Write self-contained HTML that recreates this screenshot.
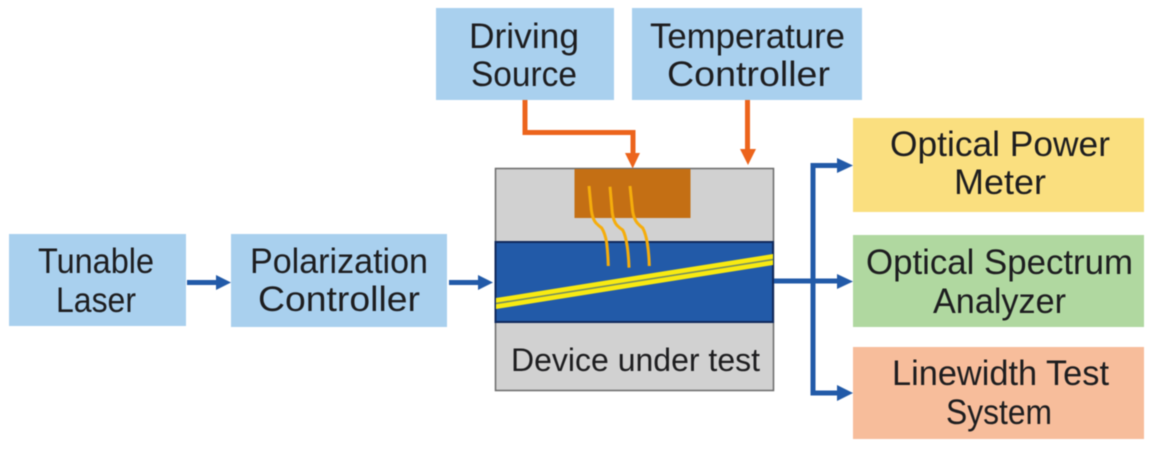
<!DOCTYPE html>
<html><head><meta charset="utf-8"><style>
html,body{margin:0;padding:0;background:#fff;width:1155px;height:451px;overflow:hidden}
svg{display:block;filter:blur(0.4px)}
text{font-family:"Liberation Sans",sans-serif;font-size:35px;fill:#1d1d1f}
</style></head><body>
<svg width="1155" height="451" viewBox="0 0 1155 451" xmlns="http://www.w3.org/2000/svg">
<rect width="1155" height="451" fill="#fff"/>
<g fill="#a9d0ee">
<rect x="436" y="8" width="178" height="92"/>
<rect x="632" y="8" width="230" height="92"/>
<rect x="9" y="234" width="177" height="92"/>
<rect x="231" y="234" width="216" height="93"/>
</g>
<rect x="853" y="118" width="291" height="94" fill="#fadf7f"/>
<rect x="853" y="235" width="291" height="92" fill="#b0d8a0"/>
<rect x="853" y="347" width="291" height="92" fill="#f7bd9b"/>

<rect x="495.500" y="168.500" width="278" height="222" fill="#d1d1d1" stroke="#6a6a6a" stroke-width="1.500"/>
<rect x="574.500" y="169" width="116" height="49" fill="#c46f14"/>
<rect x="495.500" y="242" width="277.500" height="80" fill="#225aa8" stroke="#10295c" stroke-width="2"/>

<polygon points="496,298 773,254 773,265 496,309" fill="#f8ea12"/>
<line x1="496" y1="303.500" x2="773" y2="259.500" stroke="#6f8a60" stroke-width="1.500"/>

<g fill="none" stroke="#f5ad0c" stroke-width="3" stroke-linejoin="round">
<path d="M589,186 L591.300,210 Q592.500,219 596,223 Q599,226 601.700,228 Q605,233 606.700,243 Q608,254 608.300,266"/>
<path d="M610,186.700 L612.300,213 Q613.500,221 616.700,225 Q619.500,228 622.700,230 Q625.500,235 627.300,246.700 Q628.700,257 629,267.700"/>
<path d="M630,186 L632.700,211.700 Q634,219 637.300,223 Q640,226 642.700,228 Q645.500,233 647.300,243 Q649,254 649.300,266"/>
</g>

<g fill="none" stroke="#ec641c" stroke-width="5">
<path d="M525,100 V132.500 H633 V156"/>
<path d="M747.500,100 V151"/>
</g>
<g fill="#ec641c">
<polygon points="625,153 640,153 632.700,168.500"/>
<polygon points="740,149 756,149 748,165"/>
</g>

<g fill="none" stroke="#225aa8" stroke-width="5">
<path d="M187,282.500 H218"/>
<path d="M449,282.500 H480"/>
<path d="M774,281 H840"/>
<path d="M840,165.500 H813 V393 H840"/>
</g>
<g fill="#225aa8">
<polygon points="216,275 231,282.500 216,290"/>
<polygon points="478,275 493,282.500 478,290"/>
<polygon points="837,158 853,165.500 837,173"/>
<polygon points="837,274 853,281.500 837,289"/>
<polygon points="837,385 853,393 837,401"/>
</g>

<g>
<text x="469" y="48" textLength="110" lengthAdjust="spacingAndGlyphs">Driving</text>
<text x="471" y="86" textLength="106" lengthAdjust="spacingAndGlyphs">Source</text>
<text x="650" y="48" textLength="195" lengthAdjust="spacingAndGlyphs">Temperature</text>
<text x="667" y="86" textLength="163" lengthAdjust="spacingAndGlyphs">Controller</text>
<text x="38" y="273" textLength="116" lengthAdjust="spacingAndGlyphs">Tunable</text>
<text x="56" y="312" textLength="80" lengthAdjust="spacingAndGlyphs">Laser</text>
<text x="250" y="273" textLength="178" lengthAdjust="spacingAndGlyphs">Polarization</text>
<text x="258" y="311" textLength="162" lengthAdjust="spacingAndGlyphs">Controller</text>
<text x="890" y="156" textLength="220" lengthAdjust="spacingAndGlyphs">Optical Power</text>
<text x="954" y="194" textLength="92" lengthAdjust="spacingAndGlyphs">Meter</text>
<text x="866" y="274" textLength="267" lengthAdjust="spacingAndGlyphs">Optical Spectrum</text>
<text x="933" y="313" textLength="133" lengthAdjust="spacingAndGlyphs">Analyzer</text>
<text x="892" y="385" textLength="217" lengthAdjust="spacingAndGlyphs">Linewidth Test</text>
<text x="946" y="424" textLength="106" lengthAdjust="spacingAndGlyphs">System</text>
<text x="511" y="371" textLength="249" lengthAdjust="spacingAndGlyphs" style="font-size:32px">Device under test</text>
</g>
</svg>
</body></html>
